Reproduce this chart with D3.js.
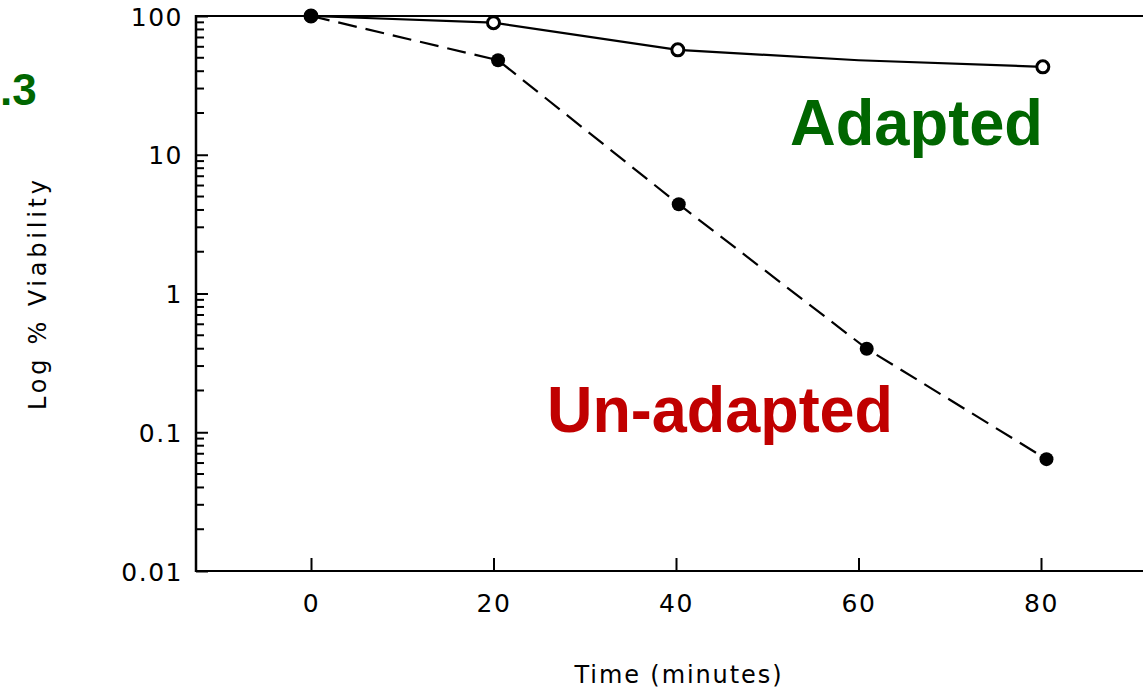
<!DOCTYPE html>
<html>
<head>
<meta charset="utf-8">
<script src="https://cdn.jsdelivr.net/npm/d3@7"></script>
<style>
  html, body { margin: 0; padding: 0; background: #fff; }
  svg { display: block; }
</style>
</head>
<body>
<svg id="chart" width="1143" height="690"></svg>
<script>
// ---- data ----
const xTicks = [0, 20, 40, 60, 80];
const yTicks = [0.01, 0.1, 1, 10, 100];
const yTickLabels = ["0.01", "0.1", "1", "10", "100"];

const adaptedTime  = [0, 20, 40.2, 60, 80.2];
const adaptedValue = [100, 89.5, 57, 48, 43];
const adaptedMarked = [true, true, true, false, true];

const unadaptedTime  = [0, 20.5, 40.3, 60.9, 80.6];
const unadaptedValue = [100, 48, 4.4, 0.40, 0.064];

const labels = { adapted: "Adapted", unadapted: "Un-adapted", figure: ".3",
                 xTitle: "Time  (minutes)", yTitle: "Log  %  Viability" };

// ---- layout ----
const svg = d3.select("#chart");
const axisLeftX = 196, axisRightX = 1143, axisTopY = 16, axisBottomY = 571;

const x = d3.scaleLinear().domain([0, 80]).range([311, 1041]);
const y = d3.scaleLog().domain([0.01, 100]).range([axisBottomY, axisTopY]);

const tickFont = "'DejaVu Sans', 'Liberation Sans', sans-serif";

// frame lines
svg.append("line").attr("x1", axisLeftX).attr("x2", axisLeftX)
  .attr("y1", axisTopY - 1).attr("y2", axisBottomY + 1)
  .attr("stroke", "#000").attr("stroke-width", 2.5);
svg.append("line").attr("x1", axisLeftX - 1).attr("x2", axisRightX)
  .attr("y1", axisBottomY).attr("y2", axisBottomY)
  .attr("stroke", "#000").attr("stroke-width", 2.2);
svg.append("line").attr("x1", axisLeftX - 1).attr("x2", axisRightX)
  .attr("y1", axisTopY).attr("y2", axisTopY)
  .attr("stroke", "#000").attr("stroke-width", 2.2);

// x axis (ticks pointing inward)
const gx = svg.append("g").attr("transform", `translate(0,${axisBottomY})`)
  .call(d3.axisBottom(x).tickValues(xTicks).tickSize(-13).tickPadding(0).tickFormat(d3.format("d")));
gx.select(".domain").remove();
gx.selectAll(".tick line").attr("stroke", "#000").attr("stroke-width", 2);
gx.selectAll(".tick text").attr("y", 41).attr("dy", 0)
  .attr("font-family", tickFont).attr("font-size", 25).attr("letter-spacing", 1.5)
  .attr("fill", "#000");

// y axis major ticks (inward)
const gy = svg.append("g").attr("transform", `translate(${axisLeftX},0)`)
  .call(d3.axisLeft(y).tickValues(yTicks).tickSize(-12).tickPadding(0)
    .tickFormat((d, i) => yTickLabels[i]));
gy.select(".domain").remove();
gy.selectAll(".tick line").attr("stroke", "#000").attr("stroke-width", 2);
gy.selectAll(".tick text").attr("x", -13).attr("dy", "0.36em")
  .attr("font-family", tickFont).attr("font-size", 25).attr("letter-spacing", 1.5)
  .attr("fill", "#000");

// y minor ticks
const minor = [];
for (let dec = 0.01; dec < 100; dec *= 10) {
  for (let k = 2; k <= 9; k++) minor.push(dec * k);
}
svg.append("g").selectAll("line").data(minor).join("line")
  .attr("x1", axisLeftX).attr("x2", axisLeftX + 8)
  .attr("y1", d => y(d)).attr("y2", d => y(d))
  .attr("stroke", "#000").attr("stroke-width", 2);

// ---- series ----
const adapted = adaptedTime.map((t, i) => ({ t, v: adaptedValue[i], m: adaptedMarked[i] }));
const unadapted = unadaptedTime.map((t, i) => ({ t, v: unadaptedValue[i] }));
const line = d3.line().x(d => x(d.t)).y(d => y(d.v));

svg.append("path").datum(adapted).attr("d", line)
  .attr("fill", "none").attr("stroke", "#000").attr("stroke-width", 2.2);
svg.append("path").datum(unadapted).attr("d", line)
  .attr("fill", "none").attr("stroke", "#000").attr("stroke-width", 2.2)
  .attr("stroke-dasharray", "19,9");

svg.append("g").selectAll("circle").data(adapted.filter(d => d.m)).join("circle")
  .attr("cx", d => x(d.t)).attr("cy", d => y(d.v)).attr("r", 6)
  .attr("fill", "#fff").attr("stroke", "#000").attr("stroke-width", 3);
svg.append("g").selectAll("circle").data(unadapted).join("circle")
  .attr("cx", d => x(d.t)).attr("cy", d => y(d.v)).attr("r", 7)
  .attr("fill", "#000");

// ---- titles ----
svg.append("text").attr("x", 678).attr("y", 683).attr("text-anchor", "middle")
  .attr("font-family", tickFont).attr("font-size", 24)
  .attr("textLength", 207).attr("lengthAdjust", "spacing")
  .attr("fill", "#000").text(labels.xTitle);

svg.append("text").attr("transform", "translate(46,295) rotate(-90)")
  .attr("text-anchor", "middle")
  .attr("font-family", tickFont).attr("font-size", 24)
  .attr("textLength", 230).attr("lengthAdjust", "spacing")
  .attr("fill", "#000").text(labels.yTitle);

// ---- annotations ----
const annFont = "'Liberation Sans', Arial, sans-serif";
svg.append("text").attr("x", 790).attr("y", 145)
  .attr("font-family", annFont).attr("font-weight", "bold").attr("font-size", 64)
  .attr("textLength", 253).attr("lengthAdjust", "spacingAndGlyphs")
  .attr("fill", "#006600").text(labels.adapted);
svg.append("text").attr("x", 547).attr("y", 432)
  .attr("font-family", annFont).attr("font-weight", "bold").attr("font-size", 64)
  .attr("textLength", 346).attr("lengthAdjust", "spacingAndGlyphs")
  .attr("fill", "#c00000").text(labels.unadapted);
svg.append("text").attr("x", 0).attr("y", 105)
  .attr("font-family", annFont).attr("font-weight", "bold").attr("font-size", 44)
  .attr("fill", "#006600").text(labels.figure);
</script>
</body>
</html>
